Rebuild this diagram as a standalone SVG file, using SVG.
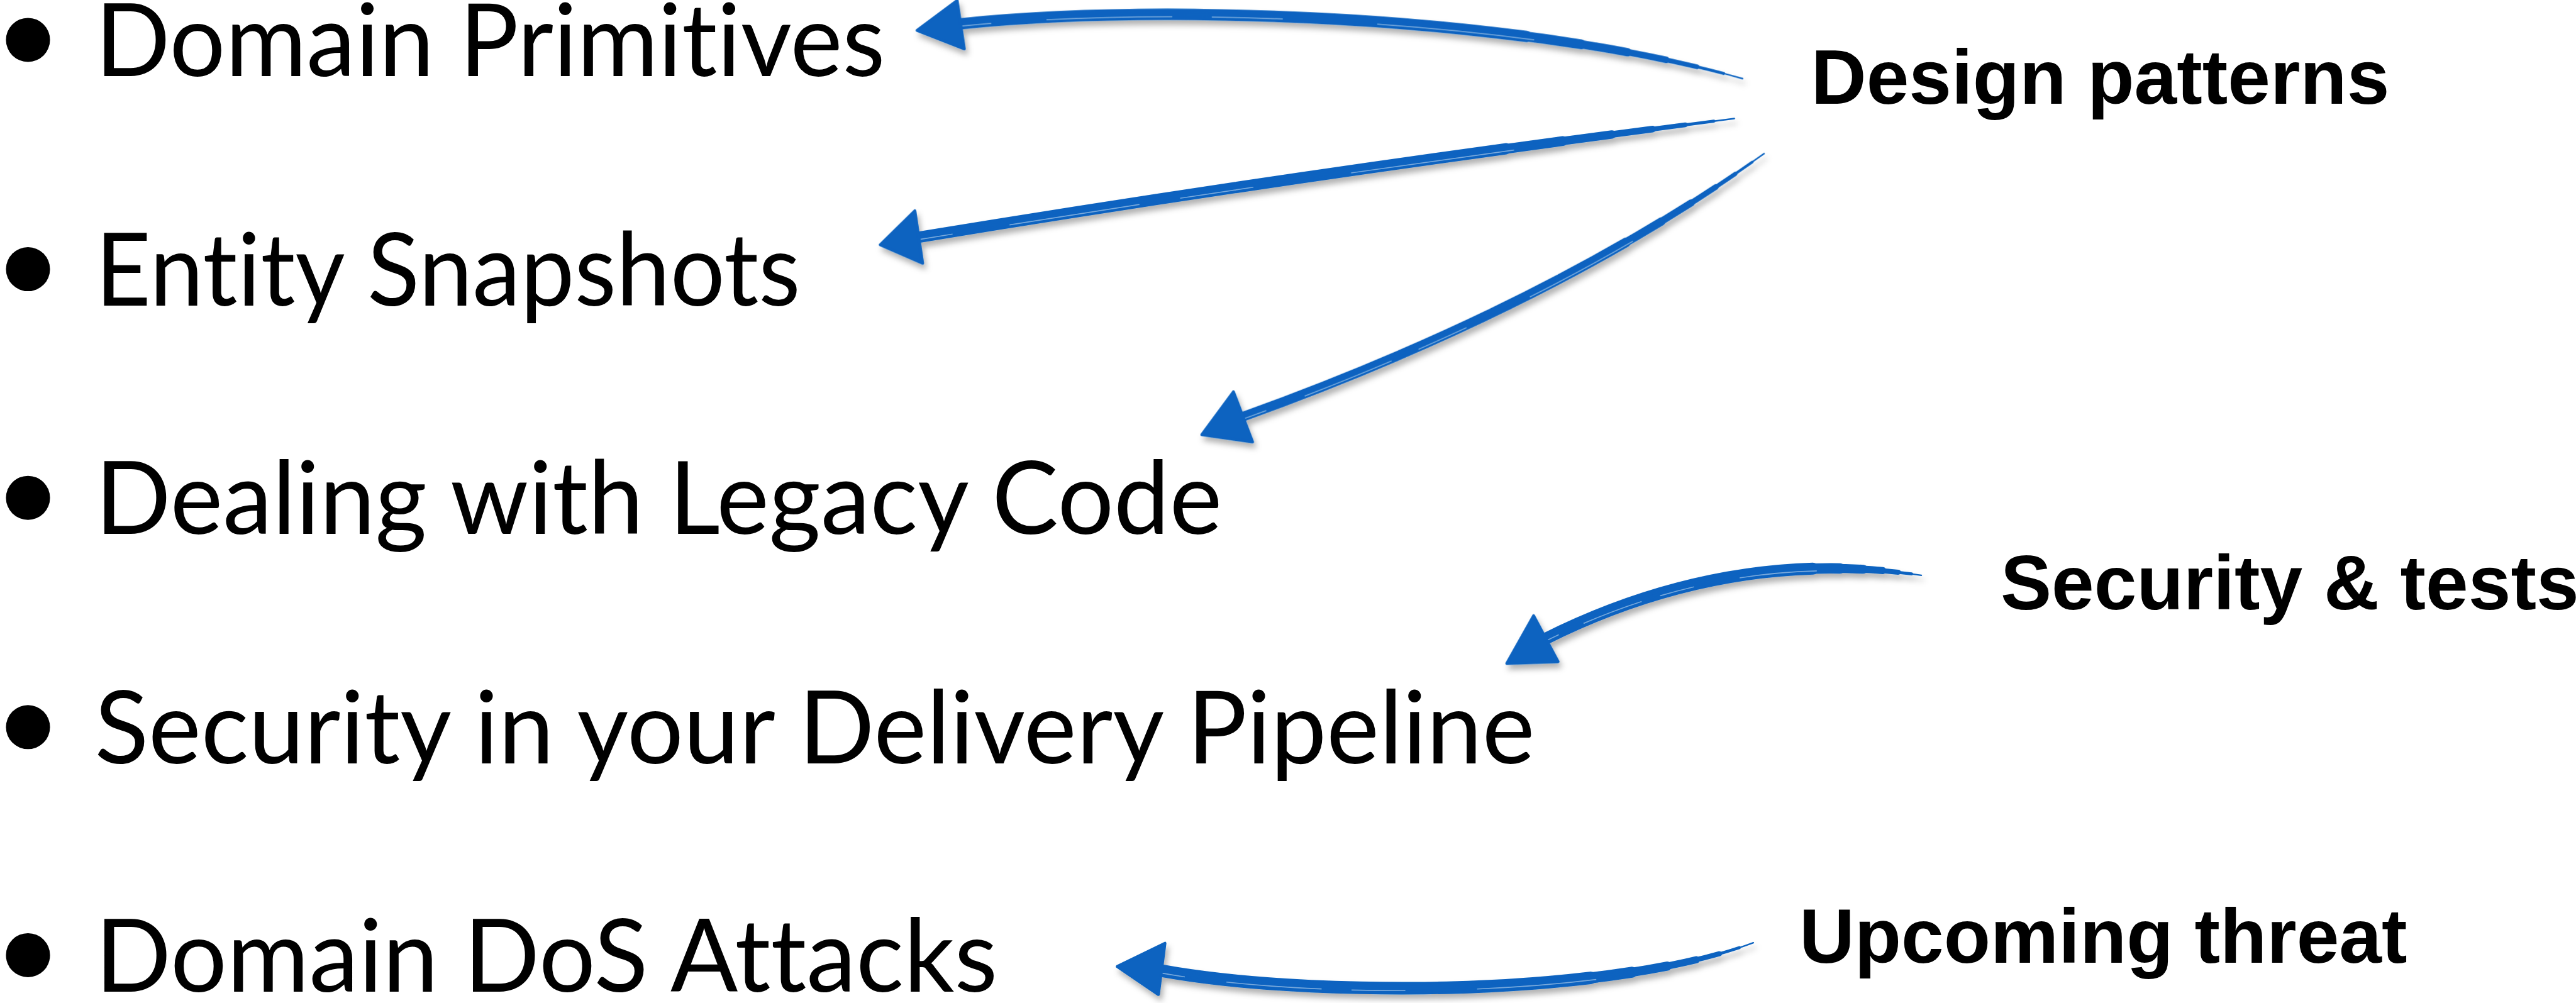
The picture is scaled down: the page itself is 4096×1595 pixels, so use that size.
<svg xmlns="http://www.w3.org/2000/svg" width="4096" height="1595" viewBox="0 0 4096 1595">
  <defs>
    <!-- soft shadow under the brushed arrows -->
    <filter id="brushShadow" x="-10%" y="-40%" width="125%" height="190%">
      <feDropShadow dx="4" dy="8" stdDeviation="5" flood-color="#000" flood-opacity="0.3"/>
    </filter>
    <!-- arrow shaft centre lines, drawn from the head towards the tail -->
    <path id="a1" pathLength="100" d="M1612,40 C1950,5 2550,25 2926,132"/>
    <path id="a2" pathLength="100" d="M1545,398 Q2200,290 2912,199"/>
    <path id="a3" pathLength="100" d="M2086,700 Q2610,511 2962,258"/>
    <path id="a4" pathLength="100" d="M2594,1073 C2740,1000 2960,925 3226,966"/>
    <path id="a5" pathLength="100" d="M1950,1630 C2200,1675 2700,1675 2944,1583"/>
  </defs>
  <style>
    .item { font-family: Lato, "Open Sans", "Liberation Sans", sans-serif; font-size: 170px; fill: #000;
            font-variant-ligatures: none; font-feature-settings: "liga" 0, "clig" 0; }
    .note { font-family: "Liberation Sans", Arial, sans-serif; font-weight: bold; font-size: 128.5px; fill: #000; }
    .bullet { fill: #000; }
    .shaft { fill: none; stroke: #0b63c0; stroke-linecap: round; stroke-linejoin: round; }
    /* tapering passes: each one thinner and a little longer */
    .t1 { stroke-dasharray: 72 200; }
    .t2 { stroke-dasharray: 79 200; }
    .t3 { stroke-dasharray: 85 200; }
    .t4 { stroke-dasharray: 90 200; }
    .t5 { stroke-dasharray: 94 200; }
    .t6 { stroke-dasharray: 97.5 200; }
    .t7 { stroke-width: 2.5px; }
    .head { fill: #0b63c0; stroke: #0b63c0; stroke-width: 5; stroke-linejoin: round; }
    .streak { fill: none; stroke: #fff; stroke-opacity: 0.45; stroke-width: 1.8px; stroke-dasharray: 4 7 16 5 9 12 20 27; }
  </style>
  <rect width="4096" height="1595" fill="#fff"/>

  <g transform="scale(0.947)">
    <!-- bulleted topics -->
    <g id="item-domain-primitives">
      <circle class="bullet" cx="47" cy="67" r="37"/>
      <text class="item" x="160" y="128" textLength="1326" lengthAdjust="spacingAndGlyphs">Domain Primitives</text>
    </g>
    <g id="item-entity-snapshots">
      <circle class="bullet" cx="47" cy="452" r="37"/>
      <text class="item" x="160" y="513" textLength="1184" lengthAdjust="spacingAndGlyphs">Entity Snapshots</text>
    </g>
    <g id="item-legacy-code">
      <circle class="bullet" cx="47" cy="836" r="37"/>
      <text class="item" x="160" y="897" textLength="1892" lengthAdjust="spacingAndGlyphs">Dealing with Legacy Code</text>
    </g>
    <g id="item-delivery-pipeline">
      <circle class="bullet" cx="47" cy="1221" r="37"/>
      <text class="item" x="159" y="1282" textLength="2418" lengthAdjust="spacingAndGlyphs">Security in your Delivery Pipeline</text>
    </g>
    <g id="item-dos-attacks">
      <circle class="bullet" cx="47" cy="1604" r="37"/>
      <text class="item" x="160" y="1665" textLength="1515" lengthAdjust="spacingAndGlyphs">Domain DoS Attacks</text>
    </g>

    <!-- category labels -->
    <g id="label-design-patterns">
      <text class="note" x="3041" y="174">Design patterns</text>
    </g>
    <g id="label-security-tests">
      <text class="note" x="3359" y="1023">Security &amp; tests</text>
    </g>
    <g id="label-upcoming-threat">
      <text class="note" x="3021" y="1617">Upcoming threat</text>
    </g>

    <!-- brushed arrows from labels to topics -->
    <g id="connectors">
      <g id="arrow-primitives" filter="url(#brushShadow)">
        <use href="#a1" class="shaft t1" style="stroke-width:19px"/>
        <use href="#a1" class="shaft t2" style="stroke-width:16.5px"/>
        <use href="#a1" class="shaft t3" style="stroke-width:14px"/>
        <use href="#a1" class="shaft t4" style="stroke-width:11px"/>
        <use href="#a1" class="shaft t5" style="stroke-width:8px"/>
        <use href="#a1" class="shaft t6" style="stroke-width:5px"/>
        <use href="#a1" class="shaft t7"/>
        <use href="#a1" class="streak" transform="translate(0,4)"/>
        <polygon class="head" points="1540,51 1607,1 1619,82"/>
      </g>
      <g id="arrow-snapshots" filter="url(#brushShadow)">
        <use href="#a2" class="shaft t1" style="stroke-width:19px"/>
        <use href="#a2" class="shaft t2" style="stroke-width:16.5px"/>
        <use href="#a2" class="shaft t3" style="stroke-width:14px"/>
        <use href="#a2" class="shaft t4" style="stroke-width:11px"/>
        <use href="#a2" class="shaft t5" style="stroke-width:8px"/>
        <use href="#a2" class="shaft t6" style="stroke-width:5px"/>
        <use href="#a2" class="shaft t7"/>
        <use href="#a2" class="streak" transform="translate(0,4)"/>
        <polygon class="head" points="1478,411 1536,354 1549,442"/>
      </g>
      <g id="arrow-legacy" filter="url(#brushShadow)">
        <use href="#a3" class="shaft t1" style="stroke-width:16px"/>
        <use href="#a3" class="shaft t2" style="stroke-width:14px"/>
        <use href="#a3" class="shaft t3" style="stroke-width:12px"/>
        <use href="#a3" class="shaft t4" style="stroke-width:9.5px"/>
        <use href="#a3" class="shaft t5" style="stroke-width:7px"/>
        <use href="#a3" class="shaft t6" style="stroke-width:4.5px"/>
        <use href="#a3" class="shaft t7"/>
        <use href="#a3" class="streak" transform="translate(3,3)"/>
        <polygon class="head" points="2018,730 2071,658 2103,742"/>
      </g>
      <g id="arrow-pipeline" filter="url(#brushShadow)">
        <use href="#a4" class="shaft t1" style="stroke-width:20px"/>
        <use href="#a4" class="shaft t2" style="stroke-width:17.5px"/>
        <use href="#a4" class="shaft t3" style="stroke-width:15px"/>
        <use href="#a4" class="shaft t4" style="stroke-width:12px"/>
        <use href="#a4" class="shaft t5" style="stroke-width:8.5px"/>
        <use href="#a4" class="shaft t6" style="stroke-width:5px"/>
        <use href="#a4" class="shaft t7"/>
        <use href="#a4" class="streak" transform="translate(0,4)"/>
        <polygon class="head" points="2530,1114 2575,1034 2616,1111"/>
      </g>
      <g id="arrow-dos" filter="url(#brushShadow)">
        <use href="#a5" class="shaft t1" style="stroke-width:21px"/>
        <use href="#a5" class="shaft t2" style="stroke-width:18.5px"/>
        <use href="#a5" class="shaft t3" style="stroke-width:15.5px"/>
        <use href="#a5" class="shaft t4" style="stroke-width:12px"/>
        <use href="#a5" class="shaft t5" style="stroke-width:8.5px"/>
        <use href="#a5" class="shaft t6" style="stroke-width:5px"/>
        <use href="#a5" class="shaft t7"/>
        <use href="#a5" class="streak" transform="translate(0,4)"/>
        <polygon class="head" points="1876,1623 1956,1584 1945,1670"/>
      </g>
    </g>
  </g>
</svg>
